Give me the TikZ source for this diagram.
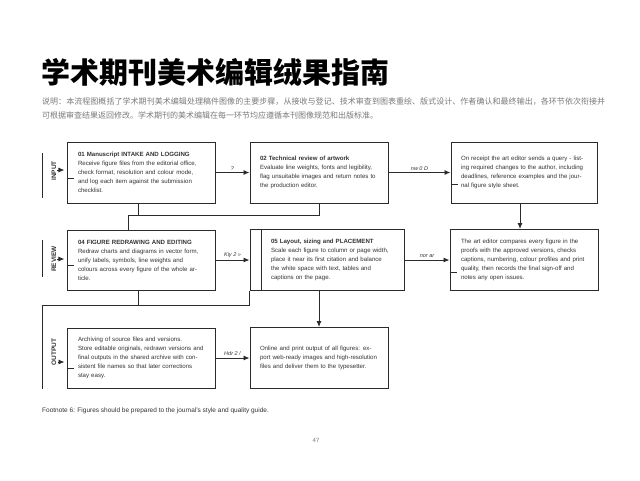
\documentclass[tikz,border=0pt]{standalone}
\usepackage{fontspec}
\setmainfont{Liberation Sans}
\newfontfamily\cjk{Noto Sans CJK SC}
\usetikzlibrary{arrows.meta,positioning}
\definecolor{boxline}{HTML}{2B2B2B}
\definecolor{boxtext}{HTML}{333333}
\definecolor{subgray}{HTML}{7A7A7A}
\XeTeXlinebreaklocale "zh"
\XeTeXlinebreakskip=0pt plus 1pt

\begin{document}
\begin{tikzpicture}[%
    x=1pt, y=-1pt,
    >={Latex[length=6pt,width=5pt]},
    on grid,
    stage/.style={draw=boxline, line width=1pt, fill=white, minimum width=148pt,
      minimum height=61pt, text width=126pt, align=left, inner xsep=0pt,
      font=\fontsize{6.1}{9}\selectfont, text=boxtext},
    flow/.style={->, draw=boxline, line width=0.9pt},
    link/.style={draw=boxline, line width=0.9pt},
    tag/.style={above, font=\fontsize{5.5}{6}\selectfont\itshape, text=boxtext, inner sep=2pt},
    rowname/.style={rotate=90, font=\fontsize{6.5}{7}\selectfont\bfseries, text=boxtext, inner sep=1pt}
  ]
    \fill[white] (0,0) rectangle (640,480);
    \useasboundingbox (0,0) rectangle (640,480);

    % heading
    \node[anchor=west, inner sep=0pt, font=\cjk\bfseries\fontsize{29}{32}\selectfont] (title)
      at (41,73) {学术期刊美术编辑绒果指南};
    \node[anchor=north west, inner sep=0pt, text width=563pt, align=justify,
      font=\cjk\fontsize{8}{14}\selectfont, text=subgray] (intro) at (42,98)
      {说明：本流程图概括了学术期刊美术编辑处理稿件图像的主要步骤，从接收与登记、技术审查到图表重绘、版式设计、作者确认和最终输出，各环节依次衔接并可根据审查结果返回修改。学术期刊的美术编辑在每一环节均应遵循本刊图像规范和出版标准。};

    % stages
    \node[stage] (A) at (141,172.5)
      {\textbf{01 Manuscript INTAKE AND LOGGING}\\ Receive figure files from the editorial office, check format, resolution and colour mode, and log each item against the submission checklist.};
    \node[stage, minimum width=138pt, text width=118pt] (B) [right=178pt of A]
      {\textbf{02 Technical review of artwork}\\ Evaluate line weights, fonts and legibility, flag unsuitable images and return notes to the production editor.};
    \node[stage, minimum width=146pt] (C) [right=205pt of B]
      {On receipt the art editor sends a query - listing required changes to the author, including deadlines, reference examples and the journal figure style sheet.};
    \node[stage, minimum height=60pt] (D) [below=87.5pt of A]
      {\textbf{04 FIGURE REDRAWING AND EDITING}\\ Redraw charts and diagrams in vector form, unify labels, symbols, line weights and colours across every figure of the whole article.};
    \node[stage, minimum width=154pt, text width=130pt] (E) [right=186pt of D]
      {\hspace*{9pt}\parbox{121pt}{\raggedright \textbf{05 Layout, sizing and PLACEMENT}\par Scale each figure to column or page width, place it near its first citation and balance the white space with text, tables and captions on the page.}};
    \node[stage] (F) [below=87.5pt of C]
      {The art editor compares every figure in the proofs with the approved versions, checks captions, numbering, colour profiles and print quality, then records the final sign-off and notes any open issues.};
    \node[stage, minimum height=60pt] (G) [below=98pt of D]
      {Archiving of source files and versions.\\ Store editable originals, redrawn versions and final outputs in the shared archive with consistent file names so that later corrections stay easy.};
    \node[stage, minimum width=138pt, text width=118pt] (H) [right=178pt of G]
      {Online and print output of all figures: export web-ready images and high-resolution files and deliver them to the typesetter.};
    \draw[link] ([xshift=12pt]E.north west) -- ([xshift=12pt]E.south west);

    % row names
    \node[rowname] (r1) at (54,171) {INPUT};
    \node[rowname] (r2) at (54,259) {REVIEW};
    \node[rowname] (r3) at (54,352) {OUTPUT};
    \foreach \r/\y in {r1/170, r2/259, r3/362}
      \draw[flow] (\r.south |- 0,\y) -- ++(7,0);
    \draw[link] (42,153) -- (42,198);
    \draw[link] (42,240) -- (42,277);

    % connectors
    \draw[flow] (A) -- node[tag] {?} (B);
    \draw[flow] (B) -- node[tag] {nw 0 D} (C);
    \draw[flow] (D) -- node[tag] {Kiy 2 »} (E);
    \draw[flow] (E) -- node[tag] {nor ar} (F);
    \draw[flow] (G) -- node[tag] {Hdr 2 /} (H);
    \draw[flow] ([xshift=-4pt]C.south) -- ([xshift=-4pt]F.north);
    \draw[flow] (E.south -| H.north) -- (H.north);

    \coordinate (join1) at (128,215);
    \draw[link] (B.south) |- (join1) -- (join1 |- D.north);
    \draw[link] ([xshift=-3pt]A.south) -- ([xshift=-3pt]A.south |- join1);
    \coordinate (join2) at (42,305);
    \draw[link] (E.south west) |- (join2) -- (join2 |- G.south);
    \draw[link] ([xshift=-3pt]D.south) -- ([xshift=-3pt]D.south |- join2);

    \foreach \b/\d in {A/6, C/12, D/5, F/12, G/10}
      \draw[link] ([yshift=-\d pt]\b.west) -- ++(7,0);

    % foot
    \node[anchor=west, inner sep=0pt, font=\fontsize{6.5}{8}\selectfont, text=boxtext] (note)
      at (42,411) {Footnote 6: Figures should be prepared to the journal's style and quality guide.};
    \node[font=\fontsize{6}{7}\selectfont, text=subgray] (pageno) at (316,440) {47};
\end{tikzpicture}
\end{document}
